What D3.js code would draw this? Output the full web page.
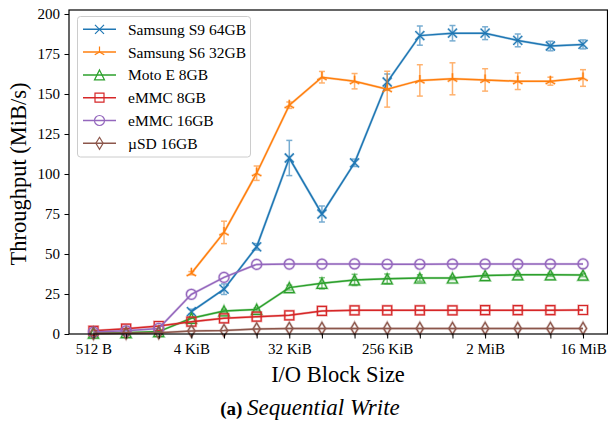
<!DOCTYPE html>
<html>
<head>
<meta charset="utf-8">
<script src="https://cdn.jsdelivr.net/npm/d3@7"></script>
<style>
  body { margin: 0; background: white; }
  svg { font-family: "Liberation Serif", "DejaVu Serif", serif; }
</style>
</head>
<body>
<div id="wrapper"></div>
<script>
// block sizes in bytes
const blockSizes = [512, 1024, 2048, 4096, 8192, 16384, 32768, 65536, 131072,
    262144, 524288, 1048576, 2097152, 4194304, 8388608, 16777216]
const xTickValues = [512, 4096, 32768, 262144, 2097152, 16777216]
const xTickLabels = ["512 B", "4 KiB", "32 KiB", "256 KiB", "2 MiB", "16 MiB"]
const yTickValues = [0, 25, 50, 75, 100, 125, 150, 175, 200]

const seriesNames = ["Samsung S9 64GB", "Samsung S6 32GB", "Moto E 8GB", "eMMC 8GB", "eMMC 16GB", "\u00b5SD 16GB"]
const seriesColors = ["#1f77b4", "#ff7f0e", "#2ca02c", "#d62728", "#9467bd", "#8c564b"]
const seriesMarkers = ["x", "tri", "triangle", "square", "circle", "diamond"]

const s9Values = [null, null, null, 14, 28, 54.5, 110, 75, 107, 157.5, 186.5, 188, 188, 183.5, 180, 181]
const s9Errors = [null, null, null, 1.5, 3.3, 2, 11, 5, 2.3, 5, 6, 4.8, 4, 4, 3, 2.8]
const s6Values = [null, null, null, 38, 63.5, 100.5, 143, 160.5, 158, 153, 158.5, 159.5, 158.8, 158, 158, 160]
const s6Errors = [null, null, null, 1, 7, 4.5, 2, 3.6, 4.8, 11.2, 9.8, 10, 7, 5.2, 2.5, 5.2]
const motoValues = [0.5, 0.8, 1.5, 9.8, 14.4, 15.4, 29, 31.7, 33.8, 34.5, 35, 35, 36.5, 37, 37, 36.8]
const motoErrors = [0, 0, 0, 0.5, 1, 1, 1.5, 3.5, 3.5, 3, 2, 1, 1, 1, 1, 1]
const emmc8Values = [2, 3.3, 5, 7.7, 9.8, 10.8, 11.7, 14.4, 14.8, 14.8, 14.8, 14.8, 14.9, 14.9, 14.9, 15]
const emmc8Errors = [0.3, 0.3, 0.3, 0.5, 0.5, 0.5, 0.5, 0.5, 0.5, 0.5, 0.5, 0.5, 0.5, 0.5, 0.5, 0.5]
const emmc16Values = [1.2, 2, 3.5, 24.8, 35.4, 43.5, 43.7, 43.7, 43.8, 43.6, 43.6, 43.7, 43.7, 43.7, 43.7, 43.8]
const emmc16Errors = [0.2, 0.2, 0.2, 0.5, 0.5, 0.5, 0.5, 0.5, 0.5, 0.5, 0.5, 0.5, 0.5, 0.5, 0.5, 0.5]
const usdValues = [0.3, 0.5, 0.8, 1.9, 2.2, 3.2, 3.5, 3.5, 3.5, 3.5, 3.5, 3.5, 3.5, 3.5, 3.5, 3.5]
const usdErrors = [0.1, 0.1, 0.1, 0.2, 0.2, 0.2, 0.2, 0.2, 0.2, 0.2, 0.2, 0.2, 0.2, 0.2, 0.2, 0.2]

const allValues = [s9Values, s6Values, motoValues, emmc8Values, emmc16Values, usdValues]
const allErrors = [s9Errors, s6Errors, motoErrors, emmc8Errors, emmc16Errors, usdErrors]

// 1. build series
const series = seriesNames.map((name, i) => ({
    name,
    color: seriesColors[i],
    marker: seriesMarkers[i],
    points: blockSizes
        .map((size, j) => ({ size, value: allValues[i][j], err: allErrors[i][j] }))
        .filter(d => d.value !== null)
}))

// 2. dimensions
const width = 608
const height = 423
const plot = { left: 69, right: 607.5, top: 10, bottom: 334 }

// 3. canvas
const svg = d3.select("#wrapper")
    .append("svg")
        .attr("width", width)
        .attr("height", height)

// 4. scales (5% log margin like matplotlib)
const xScale = d3.scaleLog()
    .base(2)
    .domain([Math.pow(2, 8.25), Math.pow(2, 24.75)])
    .range([plot.left, plot.right])

const yScale = d3.scaleLinear()
    .domain([0, 202.5])
    .range([plot.bottom, plot.top])

// marker shapes
function markerPath(type) {
    const p = d3.path()
    if (type === "x") {
        const r = 4.5
        p.moveTo(-r, -r); p.lineTo(r, r)
        p.moveTo(-r, r); p.lineTo(r, -r)
    } else if (type === "tri") {
        const r = 5.5
        p.moveTo(0, 0); p.lineTo(0, -r)
        p.moveTo(0, 0); p.lineTo(-r * 0.866, r * 0.5)
        p.moveTo(0, 0); p.lineTo(r * 0.866, r * 0.5)
    } else if (type === "triangle") {
        const r = 5
        p.moveTo(0, -r); p.lineTo(r, r); p.lineTo(-r, r); p.closePath()
    } else if (type === "square") {
        const r = 4.5
        p.rect(-r, -r, 2 * r, 2 * r)
    } else if (type === "circle") {
        p.arc(0, 0, 5, 0, 2 * Math.PI)
    } else if (type === "diamond") {
        const r = 6
        p.moveTo(0, -r); p.lineTo(r * 0.6, 0); p.lineTo(0, r); p.lineTo(-r * 0.6, 0); p.closePath()
    }
    return p.toString()
}

// 5. draw data
const lineGenerator = d3.line()
    .x(d => xScale(d.size))
    .y(d => yScale(d.value))

const seriesGroups = svg.append("g")
    .selectAll("g")
    .data(series)
    .join("g")

// faint under-line (error bar series drawn with alpha)
seriesGroups.append("path")
    .attr("d", d => lineGenerator(d.points))
    .attr("fill", "none")
    .attr("stroke", d => d.color)
    .attr("stroke-width", 2.5)
    .attr("opacity", 0.3)

// error bars
seriesGroups.each(function (s) {
    const g = d3.select(this).append("g")
        .attr("stroke", s.color)
        .attr("stroke-width", 1.5)
        .attr("opacity", 0.6)
    s.points.filter(d => d.err > 0.8).forEach(d => {
        const x = xScale(d.size)
        const y0 = yScale(d.value - d.err)
        const y1 = yScale(d.value + d.err)
        g.append("line").attr("x1", x).attr("x2", x).attr("y1", y0).attr("y2", y1)
        g.append("line").attr("x1", x - 3).attr("x2", x + 3).attr("y1", y0).attr("y2", y0)
        g.append("line").attr("x1", x - 3).attr("x2", x + 3).attr("y1", y1).attr("y2", y1)
    })
})

seriesGroups.append("path")
    .attr("d", d => lineGenerator(d.points))
    .attr("fill", "none")
    .attr("stroke", d => d.color)
    .attr("stroke-width", 1.5)

seriesGroups.each(function (s) {
    const g = d3.select(this)
    g.selectAll(".halo")
        .data(s.points)
        .join("path")
        .attr("class", "halo")
        .attr("transform", d => `translate(${xScale(d.size)},${yScale(d.value)})`)
        .attr("d", markerPath(s.marker))
        .attr("fill", "none")
        .attr("stroke", s.color)
        .attr("stroke-width", 2.6)
        .attr("opacity", 0.3)
    g.selectAll(".mark")
        .data(s.points)
        .join("path")
        .attr("class", "mark")
        .attr("transform", d => `translate(${xScale(d.size)},${yScale(d.value)})`)
        .attr("d", markerPath(s.marker))
        .attr("fill", "none")
        .attr("stroke", s.color)
        .attr("stroke-width", 1.2)
})

// 6. peripherals
const xAxisGenerator = d3.axisBottom(xScale)
    .tickValues(blockSizes)
    .tickSize(4.5)
    .tickPadding(5)
    .tickFormat(d => {
        const i = xTickValues.indexOf(d)
        return i >= 0 ? xTickLabels[i] : ""
    })

const xAxis = svg.append("g")
    .attr("transform", `translate(0,${plot.bottom})`)
    .call(xAxisGenerator)
xAxis.select(".domain").remove()
xAxis.selectAll("text")
    .attr("fill", "black")
    .style("font-family", "Liberation Serif")
    .style("font-size", "15px")

const yAxisGenerator = d3.axisLeft(yScale)
    .tickValues(yTickValues)
    .tickSize(4.5)
    .tickPadding(4.5)

const yAxis = svg.append("g")
    .attr("transform", `translate(${plot.left},0)`)
    .call(yAxisGenerator)
yAxis.select(".domain").remove()
yAxis.selectAll("text")
    .attr("fill", "black")
    .style("font-family", "Liberation Serif")
    .style("font-size", "15px")

// spines
svg.append("rect")
    .attr("x", plot.left)
    .attr("y", plot.top)
    .attr("width", plot.right - plot.left)
    .attr("height", plot.bottom - plot.top)
    .attr("fill", "none")
    .attr("stroke", "black")
    .attr("stroke-width", 1.2)

svg.append("text")
    .attr("x", 338)
    .attr("y", 382)
    .attr("text-anchor", "middle")
    .style("font-size", "22.5px")
    .text("I/O Block Size")

svg.append("text")
    .attr("transform", "translate(26,174) rotate(-90)")
    .attr("text-anchor", "middle")
    .style("font-size", "22.5px")
    .text("Throughput (MiB/s)")

const caption = svg.append("text")
    .attr("x", 310)
    .attr("y", 415)
    .attr("text-anchor", "middle")
caption.append("tspan").style("font-weight", "bold").style("font-size", "19px").text("(a) ")
caption.append("tspan").style("font-style", "italic").style("font-size", "23px").text("Sequential Write")

// legend
const legend = svg.append("g")
legend.append("rect")
    .attr("x", 77.5)
    .attr("y", 16.5)
    .attr("width", 173)
    .attr("height", 140.5)
    .attr("rx", 3)
    .attr("fill", "white")
    .attr("fill-opacity", 0.8)
    .attr("stroke", "#cccccc")

const legendItems = legend.selectAll(".item")
    .data(series)
    .join("g")
    .attr("class", "item")
    .attr("transform", (d, i) => `translate(0,${29.3 + i * 22.8})`)

legendItems.append("line")
    .attr("x1", 83).attr("x2", 116)
    .attr("stroke", d => d.color)
    .attr("stroke-width", 1.5)
legendItems.append("path")
    .attr("transform", "translate(99.5,0)")
    .attr("d", d => markerPath(d.marker))
    .attr("fill", "none")
    .attr("stroke", d => d.color)
    .attr("stroke-width", 1.2)
legendItems.append("text")
    .attr("x", 128)
    .attr("y", 5.5)
    .style("font-size", "15.5px")
    .text(d => d.name)
</script>
</body>
</html>
